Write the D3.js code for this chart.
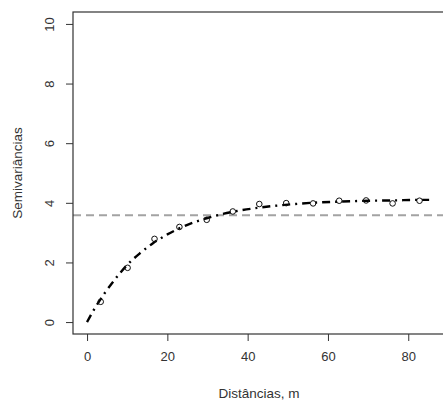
<!DOCTYPE html>
<html>
<head>
<meta charset="utf-8">
<script src="https://cdn.jsdelivr.net/npm/d3@7"></script>
<style>
  html, body { margin: 0; padding: 0; background: #fff; }
  svg { display: block; }
  text { font-family: "Liberation Sans", Arial, sans-serif; fill: #333; }
</style>
</head>
<body>
<svg id="chart" width="443" height="401"></svg>
<script>
// Empirical semivariogram: lag distances (m) and semivariances
const lagDistances = [3.4, 10.1, 16.8, 23.0, 29.8, 36.3, 42.9, 49.6, 56.3, 62.8, 69.5, 76.1, 82.8];
const semivariances = [0.68, 1.82, 2.79, 3.19, 3.43, 3.71, 3.96, 3.99, 3.98, 4.07, 4.08, 3.98, 4.07];

// Fitted model curve, sampled along distance
const modelDistances = [0, 2, 4.5, 7, 10, 13, 16.5, 20, 25, 30, 36, 43, 50, 56, 63, 70, 76, 83, 85.2];
const modelValues = [0, 0.48, 0.99, 1.44, 1.92, 2.29, 2.65, 2.94, 3.26, 3.49, 3.69, 3.84, 3.94, 4.00, 4.04, 4.07, 4.08, 4.10, 4.10];

// Sample variance reference line
const sampleVariance = 3.58;

// Axis ticks
const xTicks = [0, 20, 40, 60, 80];
const yTicks = [0, 2, 4, 6, 8, 10];

const svg = d3.select("#chart");

const plot = { left: 73, right: 446, top: 12, bottom: 334 };

const x = d3.scaleLinear().domain([-3.5, 89.4]).range([plot.left, plot.right]);
const y = d3.scaleLinear().domain([-0.4, 10.4]).range([plot.bottom, plot.top]);

// Clip marks to plotting region
svg.append("defs").append("clipPath").attr("id", "plot-clip")
  .append("rect")
  .attr("x", plot.left).attr("y", plot.top)
  .attr("width", plot.right - plot.left).attr("height", plot.bottom - plot.top);

const marks = svg.append("g").attr("clip-path", "url(#plot-clip)");

// Horizontal dashed line at the sample variance
marks.append("line")
  .attr("x1", plot.left).attr("x2", plot.right)
  .attr("y1", y(sampleVariance)).attr("y2", y(sampleVariance))
  .attr("stroke", "#a3a3a3")
  .attr("stroke-width", 2)
  .attr("stroke-dasharray", "8,5");

// Model curve (dot-dash)
const modelData = modelDistances.map((d, i) => [d, modelValues[i]]);
marks.append("path")
  .datum(modelData)
  .attr("fill", "none")
  .attr("stroke", "#000")
  .attr("stroke-width", 2.4)
  .attr("stroke-dasharray", "8,5,2,5")
  .attr("d", d3.line().x(d => x(d[0])).y(d => y(d[1])).curve(d3.curveMonotoneX));

// Empirical points (open circles)
marks.selectAll("circle.pt")
  .data(lagDistances.map((d, i) => [d, semivariances[i]]))
  .join("circle")
  .attr("class", "pt")
  .attr("cx", d => x(d[0]))
  .attr("cy", d => y(d[1]))
  .attr("r", 2.8)
  .attr("fill", "none")
  .attr("stroke", "#111")
  .attr("stroke-width", 1);

// Box around the plotting region
svg.append("rect")
  .attr("x", plot.left).attr("y", plot.top)
  .attr("width", plot.right - plot.left).attr("height", plot.bottom - plot.top)
  .attr("fill", "none")
  .attr("stroke", "#333")
  .attr("stroke-width", 1.2);

// X axis
const xAxis = d3.axisBottom(x).tickValues(xTicks).tickSize(7).tickPadding(11).tickFormat(d3.format("d"));
const gx = svg.append("g").attr("transform", `translate(0,${plot.bottom})`).call(xAxis);
gx.select(".domain").remove();
gx.selectAll(".tick line").attr("stroke", "#333");
gx.selectAll(".tick text").style("font-size", "13px").attr("fill", "#333")
  .style("font-family", '"Liberation Sans", Arial, sans-serif');

// Y axis with labels parallel to the axis
const yAxis = d3.axisLeft(y).tickValues(yTicks).tickSize(7).tickFormat(d3.format("d"));
const gy = svg.append("g").attr("transform", `translate(${plot.left},0)`).call(yAxis);
gy.select(".domain").remove();
gy.selectAll(".tick line").attr("stroke", "#333");
gy.selectAll(".tick text")
  .attr("x", null).attr("dy", null)
  .attr("transform", "translate(-24,0) rotate(-90)")
  .attr("text-anchor", "middle")
  .attr("dominant-baseline", "central")
  .style("font-size", "13px").attr("fill", "#333")
  .style("font-family", '"Liberation Sans", Arial, sans-serif');

// Axis titles
svg.append("text")
  .attr("x", 259).attr("y", 398)
  .attr("text-anchor", "middle")
  .style("font-size", "13.5px")
  .text("Distâncias, m");

svg.append("text")
  .attr("transform", `translate(22,${(plot.top + plot.bottom) / 2}) rotate(-90)`)
  .attr("text-anchor", "middle")
  .style("font-size", "13.5px")
  .text("Semivariâncias");
</script>
</body>
</html>
